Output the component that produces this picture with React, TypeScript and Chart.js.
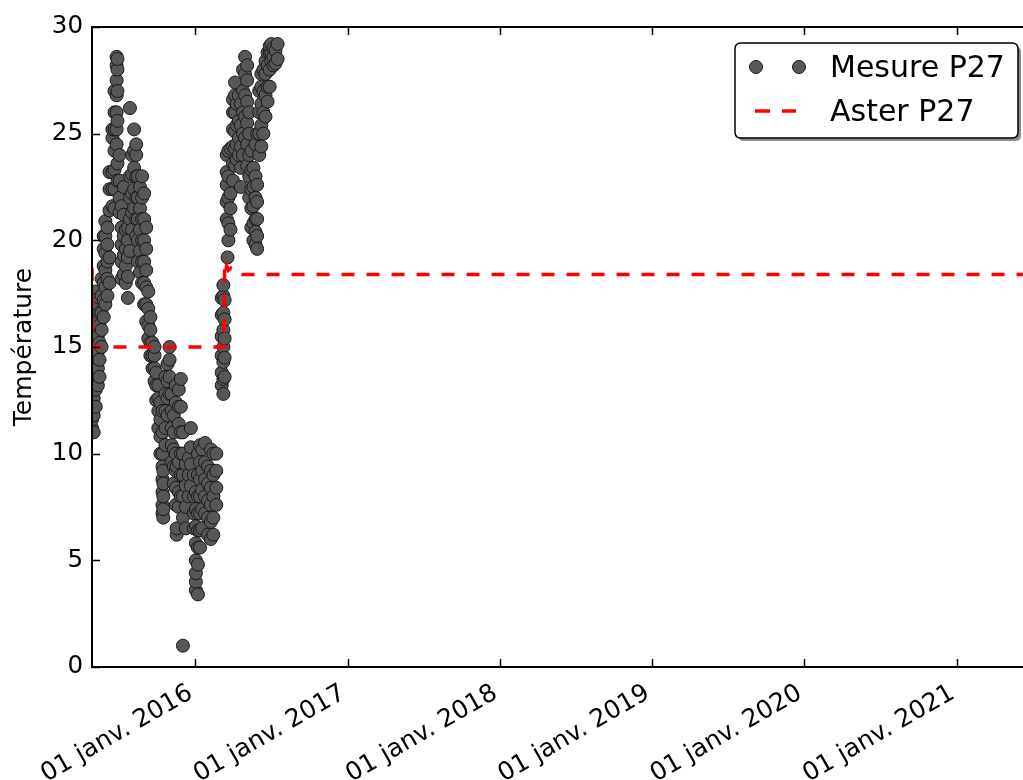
import React, { useEffect, useRef } from 'react';
import { Chart, registerables } from 'chart.js';

Chart.register(...registerables);

const FONT = '"DejaVu Sans", sans-serif';

// Mesure P27: measurement dates, each with the temperatures recorded that day
const mesureDays: string[] = [
  '2015-04-29', '2015-05-03', '2015-05-08', '2015-05-13', '2015-05-17', '2015-05-22',
  '2015-05-27', '2015-05-31', '2015-06-05', '2015-06-10', '2015-06-17', '2015-06-22',
  '2015-06-27', '2015-06-29', '2015-07-04', '2015-07-09', '2015-07-14', '2015-07-19',
  '2015-07-24', '2015-07-29', '2015-08-03', '2015-08-08', '2015-08-13', '2015-08-17',
  '2015-08-22', '2015-08-27', '2015-09-01', '2015-09-06', '2015-09-11', '2015-09-16',
  '2015-09-21', '2015-09-26', '2015-09-30', '2015-10-05', '2015-10-10', '2015-10-15',
  '2015-10-17', '2015-10-22', '2015-10-27', '2015-11-01', '2015-11-06', '2015-11-11',
  '2015-11-16', '2015-11-18', '2015-11-23', '2015-11-28', '2015-12-03', '2015-12-10',
  '2015-12-17', '2015-12-22', '2015-12-29', '2016-01-03', '2016-01-08', '2016-01-13',
  '2016-01-18', '2016-01-25', '2016-02-01', '2016-02-08', '2016-02-14', '2016-02-21',
  '2016-03-05', '2016-03-09', '2016-03-12', '2016-03-17', '2016-03-19', '2016-03-21',
  '2016-03-26', '2016-04-01', '2016-04-06', '2016-04-10', '2016-04-15', '2016-04-20',
  '2016-04-25', '2016-04-30', '2016-05-05', '2016-05-10', '2016-05-15', '2016-05-20',
  '2016-05-25', '2016-05-29', '2016-06-03', '2016-06-08', '2016-06-13', '2016-06-18',
  '2016-06-23', '2016-06-28', '2016-07-02', '2016-07-07', '2016-07-12', '2016-07-17',
];

const mesureTemps: number[][] = [
  [11.2, 11.6, 12.0, 12.5, 13.0, 13.5, 14.0, 14.6, 15.2, 15.8, 16.4, 17.0],
  [11.0, 11.8, 12.6, 13.4, 14.2, 15.0, 15.6, 16.5, 17.4],
  [12.2, 13.0, 13.8, 14.5, 15.3, 16.0, 16.8, 17.6],
  [13.2, 14.0, 14.8, 15.5, 16.2, 17.0],
  [13.6, 14.4, 15.2, 16.0, 16.6, 17.3],
  [15.0, 15.8, 16.6, 17.4, 18.2],
  [16.4, 17.2, 18.0, 18.8, 19.6, 20.2],
  [17.0, 17.8, 18.6, 19.4, 20.2, 20.9],
  [17.4, 18.2, 19.0, 19.8, 20.6],
  [18.0, 19.2, 21.4, 22.4, 23.2],
  [21.6, 22.4, 23.2, 24.8, 25.2],
  [21.5, 22.4, 23.3, 24.2, 25.2, 26.0, 27.0],
  [24.5, 25.2, 26.0, 26.8, 27.5, 28.2, 28.6],
  [22.8, 23.6, 25.6, 27.0, 28.0, 28.5],
  [21.3, 22.0, 22.8, 24.0],
  [18.2, 19.0, 19.8, 20.6, 21.6],
  [18.4, 19.3, 20.2, 21.2, 22.5],
  [18.0, 18.8, 19.6, 20.5],
  [17.3, 18.3, 19.2, 20.0, 20.6],
  [19.5, 21.0, 22.0, 23.0, 26.2],
  [20.5, 21.3, 22.2, 23.1, 24.0],
  [21.5, 22.4, 23.4, 24.2, 25.2],
  [20.2, 21.0, 22.0, 23.0, 24.0, 24.5],
  [19.0, 20.0, 21.0, 22.0, 23.0],
  [18.5, 19.5, 20.5, 21.5, 22.5],
  [18.0, 19.0, 20.0, 21.0, 22.0, 23.0],
  [17.0, 18.0, 19.0, 20.0, 21.0, 22.2],
  [16.2, 17.0, 17.8, 18.6, 19.6, 20.6],
  [15.4, 16.0, 16.8, 17.6],
  [14.6, 15.2, 15.8, 16.4],
  [14.0, 14.6, 15.2],
  [13.4, 14.0, 14.6, 15.0],
  [12.5, 13.2, 13.8],
  [11.2, 12.0, 12.6, 13.2],
  [10.0, 10.8, 11.6, 12.4],
  [7.2, 7.6, 8.2, 8.8, 9.4, 10.0, 11.0, 12.0],
  [7.0, 7.4, 8.0, 8.6, 9.2],
  [10.4, 11.2, 12.0, 12.8, 13.6],
  [11.8, 12.6, 13.4, 14.2],
  [12.8, 13.6, 14.4, 15.0],
  [9.6, 10.4, 11.2, 12.0, 12.8],
  [8.6, 9.4, 10.2, 11.0, 11.8],
  [7.6, 8.4, 9.2, 10.0, 12.4, 13.2],
  [6.2, 6.5, 9.4],
  [7.5, 8.2, 9.6, 11.4, 12.2, 13.0],
  [8.0, 9.0, 10.0, 11.0, 12.2, 13.5],
  [1.0, 7.0, 8.0, 9.0, 10.0, 11.0],
  [6.5, 7.5, 8.5, 9.5],
  [8.0, 9.0, 9.8],
  [8.5, 9.5, 10.3, 11.2],
  [6.5, 7.2, 8.0, 9.0],
  [3.6, 4.0, 4.4, 5.0, 5.8, 6.6, 7.4, 8.2],
  [3.4, 4.8, 5.6, 6.4, 7.2, 8.0, 9.0, 10.0],
  [5.6, 6.4, 7.2, 8.0, 8.8, 9.6, 10.4],
  [6.5, 7.4, 8.3, 9.2, 10.2],
  [7.2, 8.0, 8.8, 9.6, 10.5],
  [6.2, 7.0, 7.8, 8.6, 9.4],
  [6.0, 6.8, 7.6, 8.4, 9.2, 10.2],
  [6.2, 7.0, 8.0, 9.0, 10.0],
  [7.6, 8.4, 9.2, 10.0],
  [13.2, 13.8, 14.6, 15.5, 16.5, 17.3],
  [12.8, 13.5, 14.3, 15.0, 15.8, 16.6, 17.4, 17.9],
  [13.6, 14.5, 15.4, 16.3, 17.2],
  [21.0, 21.8, 22.6, 23.2, 24.0],
  [19.2],
  [20.0, 20.8, 22.0, 23.0, 24.2],
  [20.5, 21.5, 22.2, 24.3],
  [22.8, 23.6, 24.4, 25.2, 26.0, 26.6],
  [23.5, 24.3, 25.1, 26.0, 26.8, 27.4],
  [23.8, 24.5, 25.4, 26.4],
  [24.0, 24.8, 25.6, 26.8],
  [22.5, 23.4, 24.4, 25.4, 26.4],
  [24.0, 25.0, 26.0, 27.0, 28.0],
  [24.8, 25.8, 26.8, 27.8, 28.6],
  [23.5, 24.5, 25.5, 26.5, 27.5, 28.2],
  [22.0, 23.0, 24.0, 25.0, 26.0],
  [20.6, 21.5, 22.4, 23.3, 24.2],
  [20.0, 20.8, 21.6, 22.5, 23.4],
  [19.8, 20.4, 21.0, 22.0, 23.0, 24.5],
  [19.6, 20.2, 21.0, 21.8, 22.6, 25.0],
  [24.0, 25.0, 26.0, 27.0],
  [24.4, 25.4, 26.4, 27.2, 27.8],
  [25.0, 26.0, 27.0, 28.0],
  [25.8, 26.8, 27.8, 28.4],
  [26.5, 27.2, 28.2, 28.8],
  [27.2, 28.0, 28.8, 29.1],
  [28.4, 28.8, 29.2],
  [28.2, 28.6, 29.0],
  [28.3, 28.9],
  [28.5, 29.2],
];

// Aster P27 series
const asterDays: string[] = [
  '2015-04-29', '2015-04-30', '2016-03-10', '2016-03-12', '2016-03-14',
  '2016-03-17', '2016-03-21', '2016-03-27', '2016-04-06', '2016-04-22', '2021-07-01',
];
const asterTemps: number[] = [18.7, 15.0, 15.0, 18.8, 18.5, 18.8, 18.6, 18.7, 18.5, 18.4, 18.4];

// Axis ticks
const xTickDays: string[] = ['2016-01-01', '2017-01-01', '2018-01-01', '2019-01-01', '2020-01-01', '2021-01-01'];
const xTickLabels: string[] = ['01 janv. 2016', '01 janv. 2017', '01 janv. 2018', '01 janv. 2019', '01 janv. 2020', '01 janv. 2021'];
const yTickValues: number[] = [0, 5, 10, 15, 20, 25, 30];

const seriesNames: string[] = ['Mesure P27', 'Aster P27'];

const toMs = (d: string) => new Date(d + 'T00:00:00Z').getTime();

const CANVAS_W = 1060;
const CANVAS_H = 780;

const framePlugin = {
  id: 'framePlugin',
  afterDraw(chart: any) {
    const { ctx, chartArea: a, scales } = chart;
    const xs = scales.x;
    const ys = scales.y;
    ctx.save();
    ctx.strokeStyle = '#000';
    ctx.lineWidth = 1.5;
    const tl = 8;
    ctx.beginPath();
    xs.ticks.forEach((t: any) => {
      const px = Math.round(xs.getPixelForValue(t.value)) + 0.5;
      ctx.moveTo(px, a.bottom);
      ctx.lineTo(px, a.bottom - tl);
      ctx.moveTo(px, a.top);
      ctx.lineTo(px, a.top + tl);
    });
    ys.ticks.forEach((t: any) => {
      const py = Math.round(ys.getPixelForValue(t.value)) + 0.5;
      ctx.moveTo(a.left, py);
      ctx.lineTo(a.left + tl, py);
      ctx.moveTo(a.right, py);
      ctx.lineTo(a.right - tl, py);
    });
    ctx.stroke();
    ctx.lineWidth = 2;
    ctx.strokeRect(a.left, a.top, a.right - a.left, a.bottom - a.top);

    // x tick labels, rotated like the reference
    ctx.fillStyle = '#000';
    ctx.font = `25px ${FONT}`;
    ctx.textAlign = 'right';
    ctx.textBaseline = 'alphabetic';
    xs.ticks.forEach((t: any, i: number) => {
      const px = xs.getPixelForValue(t.value);
      ctx.save();
      ctx.translate(px - 1, a.bottom + 30);
      ctx.rotate(-Math.PI / 6);
      ctx.fillText(xTickLabels[i] ?? '', 0, 0);
      ctx.restore();
    });

    // legend box
    const bx = 735, by = 43, bw = 283, bh = 95, r = 6;
    const rr = (x: number, y: number) => {
      ctx.beginPath();
      ctx.moveTo(x + r, y);
      ctx.lineTo(x + bw - r, y);
      ctx.quadraticCurveTo(x + bw, y, x + bw, y + r);
      ctx.lineTo(x + bw, y + bh - r);
      ctx.quadraticCurveTo(x + bw, y + bh, x + bw - r, y + bh);
      ctx.lineTo(x + r, y + bh);
      ctx.quadraticCurveTo(x, y + bh, x, y + bh - r);
      ctx.lineTo(x, y + r);
      ctx.quadraticCurveTo(x, y, x + r, y);
      ctx.closePath();
    };
    rr(bx + 3, by + 3);
    ctx.fillStyle = 'rgba(0,0,0,0.45)';
    ctx.fill();
    rr(bx, by);
    ctx.fillStyle = '#fff';
    ctx.fill();
    ctx.lineWidth = 1.5;
    ctx.strokeStyle = '#000';
    ctx.stroke();

    // legend markers
    [756, 799].forEach((cx) => {
      ctx.beginPath();
      ctx.arc(cx, 67, 6.5, 0, Math.PI * 2);
      ctx.fillStyle = '#575757';
      ctx.fill();
      ctx.lineWidth = 1;
      ctx.strokeStyle = '#1a1a1a';
      ctx.stroke();
    });
    ctx.strokeStyle = '#ff0000';
    ctx.lineWidth = 3.5;
    ctx.beginPath();
    ctx.moveTo(755, 111);
    ctx.lineTo(770, 111);
    ctx.moveTo(782, 111);
    ctx.lineTo(796, 111);
    ctx.stroke();

    ctx.fillStyle = '#000';
    ctx.font = `30px ${FONT}`;
    ctx.textAlign = 'left';
    ctx.textBaseline = 'alphabetic';
    ctx.fillText(seriesNames[0], 830, 77);
    ctx.fillText(seriesNames[1], 830, 121);
    ctx.restore();
  },
};

export default function App() {
  const canvasRef = useRef<HTMLCanvasElement | null>(null);

  useEffect(() => {
    const canvas = canvasRef.current;
    if (!canvas) return;
    const mesurePoints: { x: number; y: number }[] = [];
    mesureDays.forEach((d, i) => {
      (mesureTemps[i] || []).forEach((v) => mesurePoints.push({ x: toMs(d), y: v }));
    });
    const asterPoints = asterDays.map((d, i) => ({ x: toMs(d), y: asterTemps[i] }));
    const xMin = toMs(asterDays[0]);
    const xMax = toMs(asterDays[asterDays.length - 1]);

    const chart = new Chart(canvas, {
      type: 'scatter',
      data: {
        datasets: [
          {
            label: seriesNames[0],
            data: mesurePoints,
            backgroundColor: '#575757',
            borderColor: '#1a1a1a',
            borderWidth: 1,
            pointRadius: 6.5,
            order: 2,
          },
          {
            label: seriesNames[1],
            data: asterPoints,
            showLine: true,
            borderColor: '#ff0000',
            borderWidth: 3.5,
            borderDash: [13, 12],
            pointRadius: 0,
            tension: 0,
            fill: false,
            order: 1,
          } as any,
        ],
      },
      options: {
        animation: false,
        responsive: false,
        devicePixelRatio: 1,
        layout: { padding: { left: 0, top: 27, right: CANVAS_W - 1032.5, bottom: 0 } },
        plugins: { legend: { display: false }, tooltip: { enabled: false }, title: { display: false } },
        scales: {
          x: {
            type: 'linear',
            min: xMin,
            max: xMax,
            grid: { display: false, drawTicks: false },
            border: { display: false },
            ticks: { display: false },
            afterBuildTicks: (s: any) => {
              s.ticks = xTickDays.map((d) => ({ value: toMs(d) }));
            },
            afterFit: (s: any) => {
              s.height = CANVAS_H - 667;
            },
          },
          y: {
            type: 'linear',
            min: 0,
            max: 30,
            grid: { display: false, drawTicks: false },
            border: { display: false },
            ticks: {
              color: '#000',
              padding: 9,
              font: { family: FONT, size: 24.5 },
            },
            afterBuildTicks: (s: any) => {
              s.ticks = yTickValues.map((v) => ({ value: v }));
            },
            title: {
              display: true,
              text: 'Température',
              color: '#000',
              font: { family: FONT, size: 25 },
              padding: { top: 9, bottom: 0 },
            },
            afterFit: (s: any) => {
              s.width = 92;
            },
          },
        },
      } as any,
      plugins: [framePlugin],
    });
    return () => chart.destroy();
  }, []);

  return (
    <div style={{ position: 'fixed', left: 0, top: 0, width: 1023, height: 780, overflow: 'hidden', background: '#fff' }}>
      <canvas ref={canvasRef} width={CANVAS_W} height={CANVAS_H} style={{ display: 'block' }} />
    </div>
  );
}
